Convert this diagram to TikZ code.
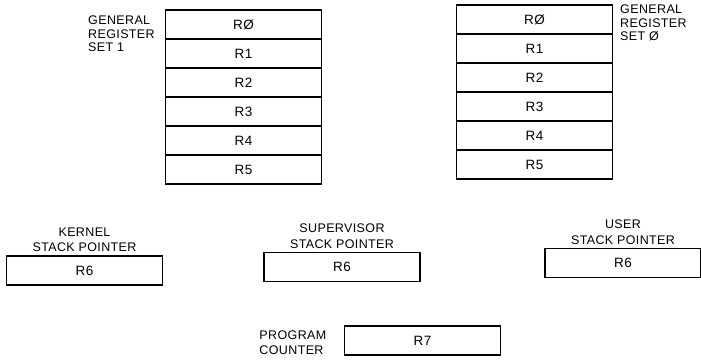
\documentclass[tikz,border=0pt]{standalone}
\usepackage{fontspec}
\setmainfont{Liberation Sans}[LetterSpace=3]
\usetikzlibrary{positioning}

\begin{document}
\begin{tikzpicture}[x=1pt, y=-1pt, node distance=4pt,
  reg/.style={draw, line width=1.8pt, outer sep=0pt, inner sep=0pt, minimum width=156pt, minimum height=29pt, font=\fontsize{13.5}{15}\selectfont},
  lbl/.style={inner sep=0pt, font=\fontsize{12.5}{13.5}\selectfont},
  splbl/.style={lbl, align=center, font=\fontsize{12.5}{15.5}\selectfont}]
\useasboundingbox (0,0) rectangle (701,359);
% general register set 1
\node (s1r0) [reg] at (243.5,24.5) {RØ};
\node (s1r1) [reg, below=0pt of s1r0] {R1};
\node (s1r2) [reg, below=0pt of s1r1] {R2};
\node (s1r3) [reg, below=0pt of s1r2] {R3};
\node (s1r4) [reg, below=0pt of s1r3] {R4};
\node (s1r5) [reg, below=0pt of s1r4] {R5};
\node (s1lbl) [lbl, align=left, anchor=north west] at (88,16) {GENERAL\\REGISTER\\SET 1};
% general register set 0
\node (s0r0) [reg] at (534.5,19.5) {RØ};
\node (s0r1) [reg, below=0pt of s0r0] {R1};
\node (s0r2) [reg, below=0pt of s0r1] {R2};
\node (s0r3) [reg, below=0pt of s0r2] {R3};
\node (s0r4) [reg, below=0pt of s0r3] {R4};
\node (s0r5) [reg, below=0pt of s0r4] {R5};
\node (s0lbl) [lbl, align=left, anchor=north west] at (620,5) {GENERAL\\REGISTER\\SET Ø};
% stack pointers
\node (ksp) [reg] at (84.5,270.5) {R6};
\node (ssp) [reg] at (342,267) {R6};
\node (usp) [reg] at (623,263) {R6};
\node (klbl) [splbl, above=of ksp] {KERNEL\\STACK POINTER};
\node (slbl) [splbl, above=of ssp] {SUPERVISOR\\STACK POINTER};
\node (ulbl) [splbl, above=of usp] {USER\\STACK POINTER};
% program counter
\node (pc) [reg] at (422.5,340.5) {R7};
\node (pclbl) [splbl, align=left, left=18pt of pc, yshift=-2pt] {PROGRAM\\COUNTER};
\end{tikzpicture}
\end{document}
